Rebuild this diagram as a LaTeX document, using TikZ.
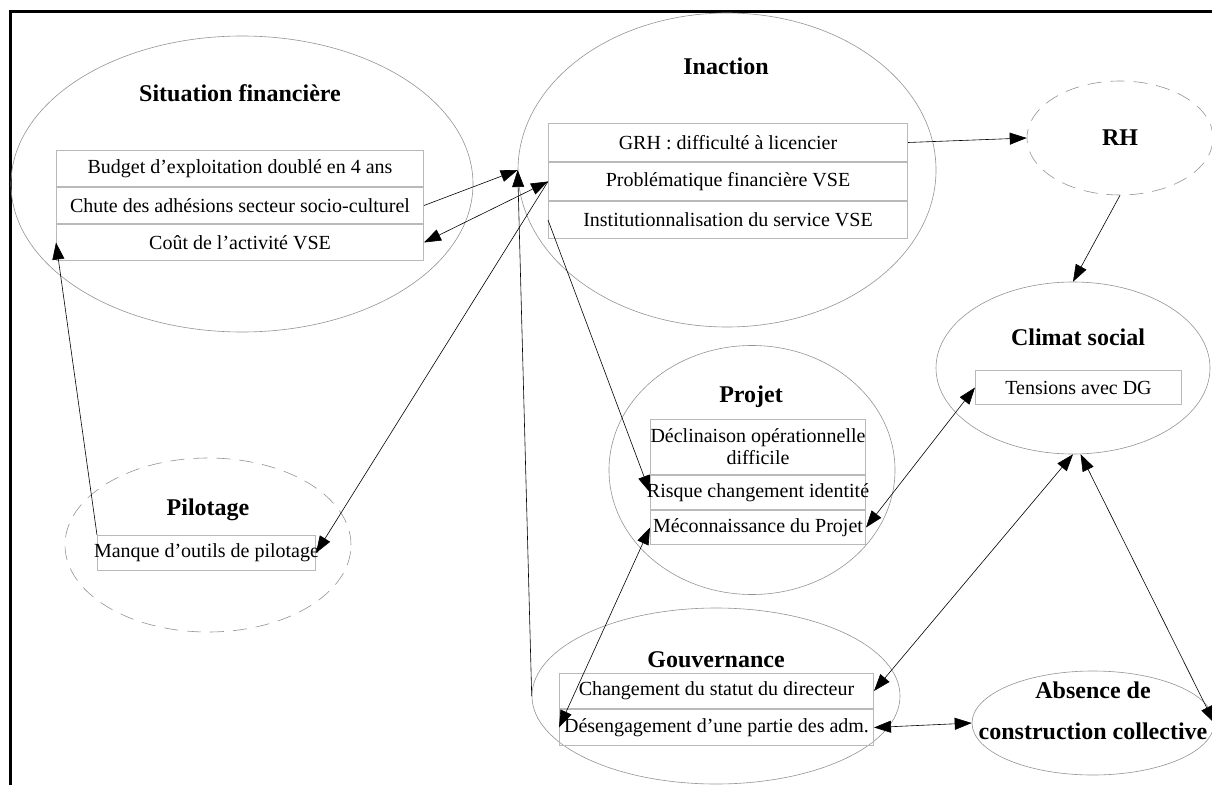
\documentclass[tikz,border=0pt]{standalone}
\usepackage{fontspec}
\setmainfont{Liberation Serif}
\usetikzlibrary{shapes.geometric, positioning, arrows.meta}

\tikzset{
  cluster/.style={ellipse, draw=gray!85, line width=0.6pt, inner sep=0pt},
  dcluster/.style={cluster, dash pattern=on 14pt off 9pt},
  title/.style={font=\fontsize{24}{26}\selectfont\bfseries},
  item/.style 2 args={rectangle, draw=gray!55, line width=1pt, inner sep=0pt,
    align=center, minimum width=#1, minimum height=#2,
    font=\fontsize{20}{22}\selectfont},
}

\begin{document}
\begin{tikzpicture}[x=1pt, y=-1pt, line width=0.6pt,
    >={Triangle[length=17pt,width=12pt]}]
    \useasboundingbox (0,0) rectangle (1212,784);
    \clip (0,0) rectangle (1212,784);
    \draw[line width=3pt] (10,800) -- (10,12) -- (1230,12);

    % les groupes
    \node[cluster, minimum width=462pt, minimum height=296pt] (sitfin) at (242,184) {};
    \node[cluster, minimum width=418pt, minimum height=314pt] (inaction) at (727,170) {};
    \node[dcluster, title, minimum width=186pt, minimum height=114pt] (rh) at (1120,138) {RH};
    \node[cluster, minimum width=274pt, minimum height=172pt] (climat) at (1073,368) {};
    \node[cluster, minimum width=286pt, minimum height=249pt] (projet) at (752,470) {};
    \node[cluster, minimum width=368pt, minimum height=176pt] (gouv) at (716,696) {};
    \node[dcluster, minimum width=286pt, minimum height=174pt] (pilot) at (208,545) {};
    \node[cluster, minimum width=242pt, minimum height=104pt] (absence) at (1093,723) {};

    \node[title] (sitfinT) at (240,93) {Situation financière};
    \node[title] (inactionT) at (726,66) {Inaction};
    \node[title] (climatT) at (1078,337) {Climat social};
    \node[title] (projetT) at (751,397) {Projet};
    \node[title] (gouvT) at (716,660) {Gouvernance};
    \node[title] (pilotT) at (208,510) {Pilotage};
    \node[title, align=center, font=\fontsize{24}{41}\selectfont\bfseries] (absenceT) at (1093,711)
        {Absence de\\construction collective};

    % Situation financiere
    \node[item={367pt}{36pt}, anchor=north west] (budget) at (56,150) {Budget d'exploitation doublé en 4 ans};
    \node[item={367pt}{36pt}, below=0pt of budget] (chute) {Chute des adhésions secteur socio-culturel};
    \node[item={367pt}{36pt}, below=0pt of chute] (cout) {Coût de l'activité VSE};

    % Inaction
    \node[item={359pt}{38pt}, anchor=north west] (grh) at (548,123) {GRH : difficulté à licencier};
    \node[item={359pt}{38pt}, below=0pt of grh] (probl) {Problématique financière VSE};
    \node[item={359pt}{37pt}, below=0pt of probl] (inst) {Institutionnalisation du service VSE};

    % Projet
    \node[item={215pt}{55pt}, anchor=north west] (decl) at (650,419) {Déclinaison opérationnelle\\difficile};
    \node[item={215pt}{34pt}, below=0pt of decl] (risque) {\makebox[215pt]{Risque changement identité}};
    \node[item={215pt}{34pt}, below=0pt of risque] (meconn) {Méconnaissance du Projet};

    % Climat social
    \node[item={206pt}{34pt}, anchor=north west] (tensions) at (975,370) {Tensions avec DG};

    % Gouvernance
    \node[item={314pt}{35pt}, anchor=north west] (changement) at (559,673) {Changement du statut du directeur};
    \node[item={314pt}{36pt}, below=0pt of changement] (desengag) {Désengagement d'une partie des adm.};

    % Pilotage
    \node[item={218pt}{35pt}, anchor=north west] (manque) at (97,535) {\makebox[218pt]{Manque d'outils de pilotage}};

    \path[->]
    (chute.east) edge (inaction.west)
    (gouv.west) edge (inaction.west)
    (inst.west) edge (risque.west)
    (probl.west) edge (manque.east)
    (manque.north west) edge (cout.west)
    (grh.east) edge (rh.west)
    (rh.south) edge (climat.north)
    ;
    \path[<->]
    (probl.west) edge (cout.east)
    (meconn.west) edge (desengag.west)
    (meconn.east) edge (tensions.west)
    (changement.east) edge (climat.south)
    (climat.-85) edge (absence.east)
    (desengag.east) edge (absence.west)
    ;
\end{tikzpicture}
\end{document}
